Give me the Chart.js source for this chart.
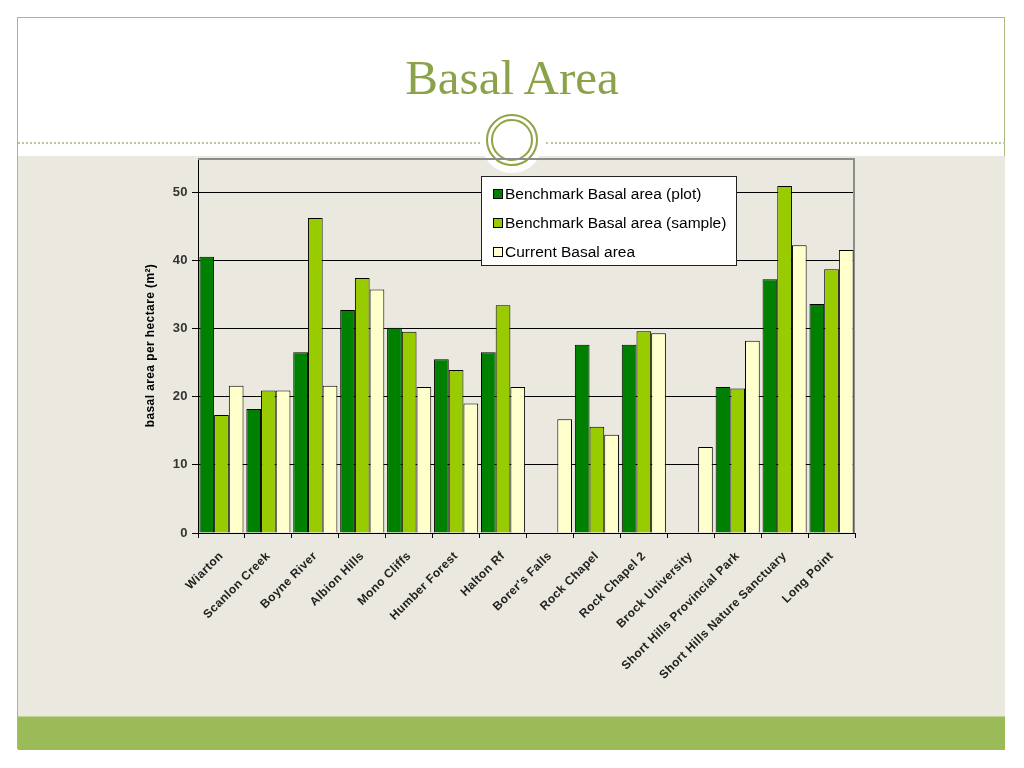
<!DOCTYPE html>
<html>
<head>
<meta charset="utf-8">
<title>Basal Area</title>
<script src="https://cdn.jsdelivr.net/npm/chart.js@4.4.1/dist/chart.umd.min.js"></script>
<style>
  html, body { margin: 0; padding: 0; background: #fff; }
  #slide { position: relative; width: 1024px; height: 768px; overflow: hidden; background: #fff; }
  .frame { position: absolute; left: 17px; top: 17px; width: 988px; height: 732px; border: 1px solid #a9bb7c; box-sizing: border-box; }
  .beige { position: absolute; left: 18px; top: 156px; width: 987px; height: 560px; background: #ebe9df; }
  .band { position: absolute; left: 18px; top: 716px; width: 987px; height: 33px; background: #9bbb59; border-top: 1px solid #c2d39a; }
  .dots { position: absolute; top: 142px; height: 0; border-top: 2px dotted #b9c79a; }
  .halo { position: absolute; left: 481px; top: 111px; width: 62px; height: 62px; border-radius: 50%; background: #fff; }
  .ring { position: absolute; border-radius: 50%; border: 2px solid #8ea343; box-sizing: border-box; }
  #title { position: absolute; left: 0; top: 53px; width: 1024px; text-align: center;
           font-family: "Liberation Serif", "DejaVu Serif", serif; font-size: 49px; line-height: 49px; color: #8aa34a; }
  canvas { position: absolute; left: 0; top: 0; }
</style>
</head>
<body>
<div id="slide">
  <div class="frame"></div>
  <div class="beige"></div>
  <div class="band"></div>
  <div class="dots" style="left:18px;width:462px"></div>
  <div class="dots" style="left:546px;width:459px"></div>
  <div class="halo"></div>
  <div class="ring" style="left:486px;top:114px;width:52px;height:52px"></div>
  <div class="ring" style="left:491px;top:119px;width:42px;height:42px"></div>
  <div id="title">Basal Area</div>
  <canvas id="basalChart" width="1024" height="768"></canvas>
</div>

<script>
// sites along the x axis
const sites = [
  'Wiarton', 'Scanlon Creek', 'Boyne River', 'Albion Hills', 'Mono Cliffs',
  'Humber Forest', 'Halton Rf', "Borer's Falls", 'Rock Chapel', 'Rock Chapel 2',
  'Brock University', 'Short Hills Provincial Park', 'Short Hills Nature Sanctuary', 'Long Point'
];

// basal area per hectare (m2); null = no bar
const benchmarkPlot   = [40.5, 18.2, 26.5, 32.7, 30.1, 25.5, 26.5, null, 27.6, 27.6, null, 21.4, 37.2, 33.6];
const benchmarkSample = [17.3, 20.9, 46.2, 37.4, 29.5, 23.9, 33.4, null, 15.6, 29.6, null, 21.2, 50.9, 38.7];
const currentBasal    = [21.6, 20.9, 21.6, 35.7, 21.4, 19.0, 21.4, 16.7, 14.4, 29.3, 12.6, 28.2, 42.2, 41.5];

const seriesNames = ['Benchmark Basal area (plot)', 'Benchmark Basal area (sample)', 'Current Basal area'];
const yTicks = [0, 10, 20, 30, 40, 50];

const COLORS = ['#008000', '#99cc00', '#ffffcc'];
const FONT = '"Liberation Sans", Arial, sans-serif';

// Excel-ish loose text spacing for the axis labels
const looseText = {
  id: 'looseText',
  beforeDraw(chart) { chart.ctx.letterSpacing = '0.4px'; }
};

// gray frame on top and right of the plot, like the Excel plot area
const plotFrame = {
  id: 'plotFrame',
  beforeDatasetsDraw(chart) {
    const { ctx, chartArea: a } = chart;
    ctx.save();
    ctx.strokeStyle = '#8c8c8c';
    ctx.lineWidth = 2;
    ctx.beginPath();
    ctx.moveTo(a.left, a.top + 1);
    ctx.lineTo(a.right - 1, a.top + 1);
    ctx.lineTo(a.right - 1, a.bottom);
    ctx.stroke();
    ctx.restore();
  }
};

// boxed legend sitting inside the plot
const boxLegend = {
  id: 'boxLegend',
  afterDraw(chart) {
    const { ctx } = chart;
    const x = 481, y = 176, w = 256, h = 90;
    ctx.save();
    ctx.letterSpacing = '0px';
    ctx.fillStyle = '#fff';
    ctx.fillRect(x, y, w, h);
    ctx.strokeStyle = '#222';
    ctx.lineWidth = 1;
    ctx.strokeRect(x + 0.5, y + 0.5, w - 1, h - 1);
    ctx.font = '15.5px ' + FONT;
    ctx.textBaseline = 'middle';
    chart.data.datasets.forEach((ds, i) => {
      const cy = 194 + i * 29;
      ctx.fillStyle = ds.backgroundColor;
      ctx.fillRect(493, cy - 5, 10, 10);
      ctx.strokeStyle = '#000';
      ctx.strokeRect(493.5, cy - 4.5, 9, 9);
      ctx.fillStyle = '#000';
      ctx.fillText(ds.label, 505, cy + 1);
    });
    ctx.restore();
  }
};

const datasets = [benchmarkPlot, benchmarkSample, currentBasal].map((vals, i) => ({
  label: seriesNames[i],
  data: vals,
  backgroundColor: COLORS[i],
  borderColor: '#000',
  borderWidth: 1,
  categoryPercentage: 0.94,
  barPercentage: 1.0
}));

new Chart(document.getElementById('basalChart').getContext('2d'), {
  type: 'bar',
  data: { labels: sites, datasets },
  options: {
    responsive: false,
    devicePixelRatio: 1,
    animation: false,
    layout: { padding: { left: 130, right: 169, top: 158, bottom: 0 } },
    plugins: {
      legend: { display: false },
      tooltip: { enabled: false },
      title: { display: false }
    },
    scales: {
      x: {
        grid: { offset: true, drawOnChartArea: false, drawTicks: true, tickLength: 5, color: '#000' },
        border: { color: '#000', width: 1 },
        ticks: {
          autoSkip: false, minRotation: 45, maxRotation: 45, padding: 11,
          color: '#222', font: { family: FONT, size: 12, weight: 'bold' }
        },
        afterFit: s => { s.height = 235; }
      },
      y: {
        min: 0, max: 55,
        afterBuildTicks: s => { s.ticks = yTicks.map(v => ({ value: v })); },
        grid: { color: '#000', lineWidth: 1, tickLength: 6 },
        border: { color: '#000', width: 1 },
        ticks: { padding: 4, color: '#333', font: { family: FONT, size: 13, weight: 'bold' } },
        title: {
          display: true, text: 'basal area per hectare (m²)', color: '#000',
          padding: { top: 13, bottom: 0 },
          font: { family: FONT, size: 12, weight: 'bold' }
        },
        afterFit: s => { s.width = 68; }
      }
    }
  },
  plugins: [looseText, plotFrame, boxLegend]
});
</script>
</body>
</html>
